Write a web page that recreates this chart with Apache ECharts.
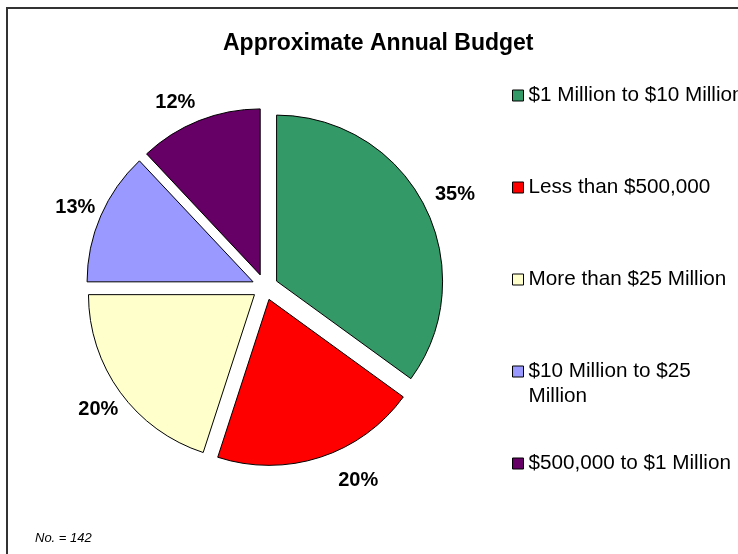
<!DOCTYPE html>
<html>
<head>
<meta charset="utf-8">
<script src="https://cdn.jsdelivr.net/npm/echarts@6/dist/echarts.min.js"></script>
<style>
  html, body { margin: 0; padding: 0; background: #ffffff; }
  #chart { width: 738px; height: 554px; }
</style>
</head>
<body>
<div id="chart"></div>
<script>
// Budget brackets, clockwise from 12 o'clock
var categories = [
  '$1 Million to $10 Million',
  'Less than $500,000',
  'More than $25 Million',
  '$10 Million to $25 Million',
  '$500,000 to $1 Million'
];
var shares = [35, 20, 20, 13, 12];
var sliceColors = ['#339966', '#FF0000', '#FFFFCC', '#9999FF', '#660066'];
var titleText = 'Approximate Annual Budget';
var noteText = 'No. = 142';

// Legend lines: long names break after the first line
var legendLines = {
  '$10 Million to $25 Million': ['$10 Million to $25', 'Million']
};

// Small nudges for the percentage labels (pixels, x/y), one per slice
var labelNudge = [[2, 3], [28, -7], [4, -2], [4, 4], [-12, 12]];

var FONT = '"Liberation Sans", Arial, Helvetica, sans-serif';
var CENTER = [265, 287];
var RADIUS = 166;

var pieData = categories.map(function (name, i) {
  return {
    name: name,
    value: shares[i],
    selected: true,
    itemStyle: { color: sliceColors[i] }
  };
});

// Percentage labels sit on a transparent ring just outside the pie
var labelData = categories.map(function (name, i) {
  return { name: name, value: shares[i], label: { offset: labelNudge[i] } };
});

var chart = echarts.init(document.getElementById('chart'), null, { renderer: 'canvas' });

chart.setOption({
  backgroundColor: '#ffffff',
  animation: false,
  title: [
    {
      text: titleText,
      left: 218,
      top: 27,
      textStyle: { fontFamily: FONT, fontSize: 23, fontWeight: 'bold', color: '#000000' }
    },
    {
      text: noteText,
      left: 30,
      top: 527,
      textStyle: { fontFamily: FONT, fontSize: 13, fontStyle: 'italic', fontWeight: 'normal', color: '#000000' }
    }
  ],
  graphic: [
    {
      type: 'rect',
      shape: { x: 7, y: 8, width: 900, height: 700 },
      style: { fill: 'none', stroke: '#333333', lineWidth: 2 },
      silent: true,
      z: -1
    }
  ],
  legend: {
    orient: 'vertical',
    left: 507,
    top: 55,
    itemWidth: 11,
    itemHeight: 11,
    itemGap: 21,
    icon: 'rect',
    selectedMode: false,
    data: categories.map(function (name, i) {
      return {
        name: name,
        itemStyle: { color: sliceColors[i], borderColor: '#000000', borderWidth: 1 }
      };
    }),
    formatter: function (name) {
      var lines = legendLines[name];
      if (lines) {
        return '{e| }\n{t|' + lines[0] + '}\n{t|' + lines[1] + '}';
      }
      return '{e| }\n{t|' + name + '}\n{e| }';
    },
    textStyle: {
      fontFamily: FONT,
      fontSize: 20.7,
      color: '#000000',
      rich: {
        t: { fontFamily: FONT, fontSize: 20.7, lineHeight: 25, color: '#000000' },
        e: { fontFamily: FONT, fontSize: 20.7, lineHeight: 25 }
      }
    }
  },
  series: [
    {
      type: 'pie',
      name: 'Budget',
      center: CENTER,
      radius: [0, RADIUS],
      startAngle: 90,
      clockwise: true,
      selectedMode: 'multiple',
      selectedOffset: 13,
      silent: true,
      avoidLabelOverlap: false,
      itemStyle: { borderColor: '#000000', borderWidth: 1 },
      label: { show: false },
      labelLine: { show: false },
      emphasis: { disabled: true },
      data: pieData
    },
    {
      type: 'pie',
      name: 'Share labels',
      center: CENTER,
      radius: [198, 218],
      startAngle: 90,
      clockwise: true,
      silent: true,
      avoidLabelOverlap: false,
      itemStyle: { color: 'rgba(0,0,0,0)', borderWidth: 0 },
      label: {
        show: true,
        position: 'inside',
        formatter: '{c}%',
        fontFamily: FONT,
        fontSize: 20,
        fontWeight: 'bold',
        color: '#000000'
      },
      labelLine: { show: false },
      emphasis: { disabled: true },
      data: labelData
    }
  ]
});
</script>
</body>
</html>
